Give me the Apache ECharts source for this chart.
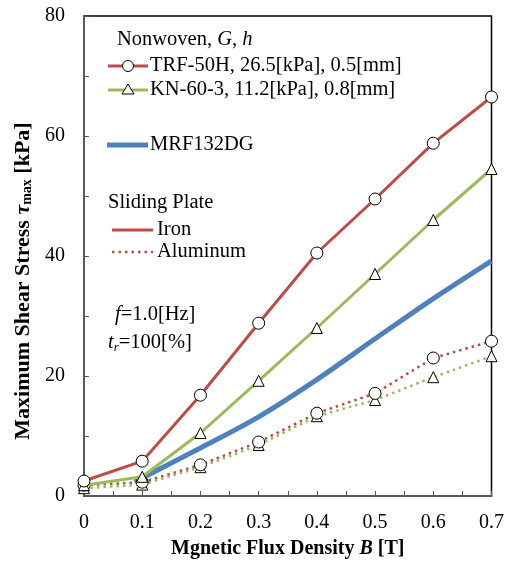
<!DOCTYPE html>
<html><head><meta charset="utf-8">
<script src="https://cdn.jsdelivr.net/npm/echarts@6/dist/echarts.min.js"></script>
<style>html,body{margin:0;padding:0;background:#fff}#c{width:507px;height:565px}</style>
</head><body><div id="c"></div>
<script>
// Data
var xB = [0, 0.1, 0.2, 0.3, 0.4, 0.5, 0.6, 0.7];
var trfIron = [2.5, 5.8, 16.8, 28.8, 40.5, 49.5, 58.8, 66.5];
var knIron = [1.8, 3.2, 10.5, 19.2, 28.0, 37.0, 46.0, 54.5];
var trfAl = [1.8, 2.3, 5.2, 9.0, 13.8, 17.1, 23.0, 25.8];
var knAl = [1.3, 1.9, 4.8, 8.5, 13.3, 16.0, 19.8, 23.3];
var mrfX = [0.087, 0.1, 0.2, 0.3, 0.4, 0.5, 0.6, 0.7];
var mrfY = [2.3, 3.0, 8.0, 13.2, 19.4, 26.2, 32.9, 39.2];
var xTicks = [0, 0.1, 0.2, 0.3, 0.4, 0.5, 0.6, 0.7];
var yTicks = [0, 20, 40, 60, 80];

var RED = '#BE4B48', GREEN = '#9BBB59', BLUE = '#4F81BD';
var FONT = '"Liberation Serif", "Times New Roman", serif';
var LF = 20.5; // legend font size

function pairs(xs, ys) { return xs.map(function (x, i) { return [x, ys[i]]; }); }

var chart = echarts.init(document.getElementById('c'), null, { renderer: 'canvas' });

var markerStyle = { color: '#fff', borderColor: '#000', borderWidth: 1 };
function rt(extra) {
  var r = { n: { fontFamily: FONT, fontSize: LF, color: '#000' }, i: { fontFamily: FONT, fontSize: LF, fontStyle: 'italic', color: '#000' } };
  for (var k in extra) r[k] = extra[k];
  return r;
}
function txt(x, cy, text, rich) {
  return { type: 'text', x: x, y: cy, style: { text: text, font: LF + 'px ' + FONT, fill: '#000', verticalAlign: 'middle', rich: rich } };
}
var legendGraphics = [
  txt(117, 40, '{n|Nonwoven, }{i|G}{n|, }{i|h}', rt({})),
  { type: 'line', shape: { x1: 108, y1: 66, x2: 148, y2: 66 }, style: { stroke: RED, lineWidth: 3 } },
  { type: 'circle', shape: { cx: 128, cy: 66, r: 5.5 }, style: { fill: '#fff', stroke: '#000', lineWidth: 1 } },
  txt(150, 66, 'TRF-50H, 26.5[kPa], 0.5[mm]'),
  { type: 'line', shape: { x1: 108, y1: 90, x2: 148, y2: 90 }, style: { stroke: GREEN, lineWidth: 3 } },
  { type: 'polygon', shape: { points: [[128, 84], [122, 94], [134, 94]] }, style: { fill: '#fff', stroke: '#000', lineWidth: 1 } },
  txt(150, 90, 'KN-60-3, 11.2[kPa], 0.8[mm]'),
  { type: 'line', shape: { x1: 107, y1: 145, x2: 148, y2: 145 }, style: { stroke: BLUE, lineWidth: 5 } },
  txt(150, 145, 'MRF132DG'),
  txt(108, 203, 'Sliding Plate'),
  { type: 'line', shape: { x1: 112, y1: 230, x2: 153, y2: 230 }, style: { stroke: RED, lineWidth: 3 } },
  txt(157, 230, 'Iron'),
  { type: 'line', shape: { x1: 112, y1: 252, x2: 153, y2: 252 }, style: { stroke: RED, lineWidth: 2.5, lineDash: [2.5, 4] } },
  txt(157, 252, 'Aluminum'),
  txt(115, 315, '{i|f}{n|=1.0[Hz]}', rt({})),
  txt(108, 343, '{i|t}{s|r}{n|=100[%]}', rt({ s: { fontFamily: FONT, fontSize: 13, fontStyle: 'italic', color: '#000', padding: [10, 0, 0, 0] } })),
  // y axis title
  { type: 'text', x: 23, y: 281, rotation: Math.PI / 2,
    style: { text: '{b|Maximum Shear Stress }{t|τ}{s|max}{b| [kPa]}', align: 'center', verticalAlign: 'middle',
      rich: {
        b: { fontFamily: FONT, fontSize: 22, fontWeight: 'bold', color: '#000' },
        t: { fontFamily: FONT, fontSize: 22, fontWeight: 'bold', fontStyle: 'italic', color: '#000' },
        s: { fontFamily: FONT, fontSize: 14, fontWeight: 'bold', color: '#000', padding: [9, 0, 0, 0] } } } }
];

var option = {
  animation: false,
  backgroundColor: '#fff',
  grid: { left: 84, right: 11, top: 16, bottom: 69, show: true, borderColor: '#000', borderWidth: 1.5, backgroundColor: 'transparent' },
  xAxis: {
    type: 'value', min: 0, max: 0.7, interval: 0.1,
    name: '{b|Mgnetic Flux Density }{i|B}{b| [T]}', nameLocation: 'middle', nameGap: 43,
    nameTextStyle: { rich: {
      b: { fontFamily: FONT, fontSize: 20, fontWeight: 'bold', color: '#000' },
      i: { fontFamily: FONT, fontSize: 20, fontWeight: 'bold', fontStyle: 'italic', color: '#000' } } },
    axisLine: { show: true, onZero: false, lineStyle: { color: '#595959', width: 2 } },
    axisTick: { show: true, inside: true, length: 5, lineStyle: { color: '#595959', width: 1 } },
    minorTick: { show: true, splitNumber: 2, length: 5, lineStyle: { color: '#595959', width: 1 } },
    splitLine: { show: false },
    axisLabel: { fontFamily: FONT, fontSize: 20, color: '#000', margin: 17,
      formatter: function (v) { var r = Math.round(v * 10) / 10; return xTicks.indexOf(r) >= 0 ? (r === 0 ? '0' : r.toFixed(1)) : ''; } }
  },
  yAxis: {
    type: 'value', min: 0, max: 80, interval: 20,
    axisLine: { show: true, onZero: false, lineStyle: { color: '#595959', width: 2 } },
    axisTick: { show: true, inside: true, length: 5, lineStyle: { color: '#595959', width: 1 } },
    minorTick: { show: true, splitNumber: 2, length: 5, lineStyle: { color: '#595959', width: 1 } },
    splitLine: { show: false },
    axisLabel: { fontFamily: FONT, fontSize: 20, color: '#000', margin: 19,
      formatter: function (v) { return yTicks.indexOf(v) >= 0 ? String(v) : ''; } }
  },
  graphic: legendGraphics,
  series: [
    { name: 'MRF132DG', type: 'line', data: pairs(mrfX, mrfY), smooth: 0.3, showSymbol: false, symbol: 'none',
      lineStyle: { color: BLUE, width: 5 }, z: 3 },
    { name: 'KN-60-3 Al', type: 'line', data: pairs(xB, knAl), symbol: 'triangle', symbolSize: 11,
      itemStyle: markerStyle, lineStyle: { color: GREEN, width: 2.5, type: [2.5, 4] }, z: 4 },
    { name: 'TRF-50H Al', type: 'line', data: pairs(xB, trfAl), symbol: 'circle', symbolSize: 12,
      itemStyle: markerStyle, lineStyle: { color: RED, width: 2.5, type: [2.5, 4] }, z: 4 },
    { name: 'KN-60-3 Iron', type: 'line', data: pairs(xB, knIron), symbol: 'triangle', symbolSize: 11,
      itemStyle: markerStyle, lineStyle: { color: GREEN, width: 3 }, z: 5 },
    { name: 'TRF-50H Iron', type: 'line', data: pairs(xB, trfIron), symbol: 'circle', symbolSize: 12,
      itemStyle: markerStyle, lineStyle: { color: RED, width: 3 }, z: 5 }
  ]
};
chart.setOption(option);
</script></body></html>
